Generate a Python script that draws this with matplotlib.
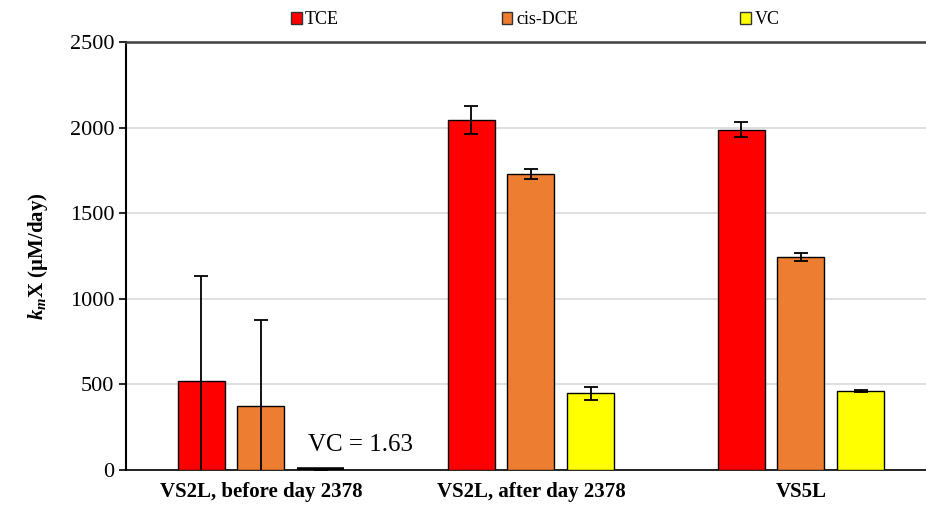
import matplotlib
matplotlib.use('Agg')
import matplotlib.pyplot as plt
from matplotlib.patches import Patch
import numpy as np

plt.rcParams['font.family'] = ['Liberation Serif', 'DejaVu Serif']
plt.rcParams['mathtext.fontset'] = 'custom'
plt.rcParams['mathtext.rm'] = 'Liberation Serif'
plt.rcParams['mathtext.it'] = 'Liberation Serif:italic'
plt.rcParams['mathtext.bf'] = 'Liberation Serif:bold'
plt.rcParams['mathtext.bfit'] = 'Liberation Serif:bold:italic'

groups = ['VS2L, before day 2378', 'VS2L, after day 2378', 'VS5L']
compounds = ['TCE', 'cis-DCE', 'VC']
colors = ['#FF0000', '#ED7D31', '#FFFF00']

tce = [521, 2045, 1987]
tce_err = [612, 83, 44]
dce = [376, 1728, 1245]
dce_err = [498, 30, 22]
vc = [1.63, 447, 463]
vc_err = [0, 40, 7]

values = [tce, dce, vc]
errors = [tce_err, dce_err, vc_err]

fig = plt.figure(figsize=(9.26, 5.07), dpi=100)
ax = fig.add_axes([0.136, 0.073, 0.864, 0.844])

x = np.arange(len(groups))
width = 0.174
pitch = 0.221
for i, (name, vals, errs, col) in enumerate(zip(compounds, values, errors, colors)):
    # the near-zero VC bar shows up as a thick black line in the original
    lws = [4.0 if v < 5 else 1.0 for v in vals]
    ax.bar(x + (i - 1) * pitch, vals, width, color=col, edgecolor='black',
           linewidth=lws, zorder=3)
    ax.errorbar(x + (i - 1) * pitch, vals, yerr=errs, fmt='none', ecolor='black',
                elinewidth=1.3, capsize=5, capthick=1.3, zorder=4)

ax.text(x[0] + 0.37, 80, 'VC = 1.63', ha='center', va='bottom', fontsize=18)

ax.set_xlim(-0.5, 2.463)
ax.set_ylim(0, 2500)
ax.set_yticks(range(0, 2501, 500))
ax.set_xticks(x)
ax.set_xticklabels(groups, fontsize=15, fontweight='bold')
ax.tick_params(axis='x', length=0, pad=9)
ax.tick_params(axis='y', labelsize=16, length=5, width=1.2, direction='out')
ax.yaxis.grid(True, color='#d9d9d9', linewidth=1.2, zorder=0)
ax.set_axisbelow(True)

ax.spines['right'].set_visible(False)
ax.spines['top'].set_color('#404040')
ax.spines['top'].set_linewidth(1.8)
ax.spines['left'].set_linewidth(1.5)
ax.spines['bottom'].set_linewidth(1.2)

ax.set_ylabel(r'$\mathbfit{k}_{\mathbfit{m}}\mathbf{X}$ (μM/day)', fontsize=15,
              fontweight='bold', labelpad=14)

handles = [Patch(facecolor=c, edgecolor='#333333', linewidth=1.0, label=n)
           for n, c in zip(compounds, colors)]
fig.legend(handles=handles, loc='upper center', bbox_to_anchor=(0.578, 1.01), ncol=3,
           frameon=False, fontsize=13, handlelength=0.6, handleheight=0.6,
           handletextpad=0.2, columnspacing=9.0)

fig.savefig('out.png', dpi=100)
